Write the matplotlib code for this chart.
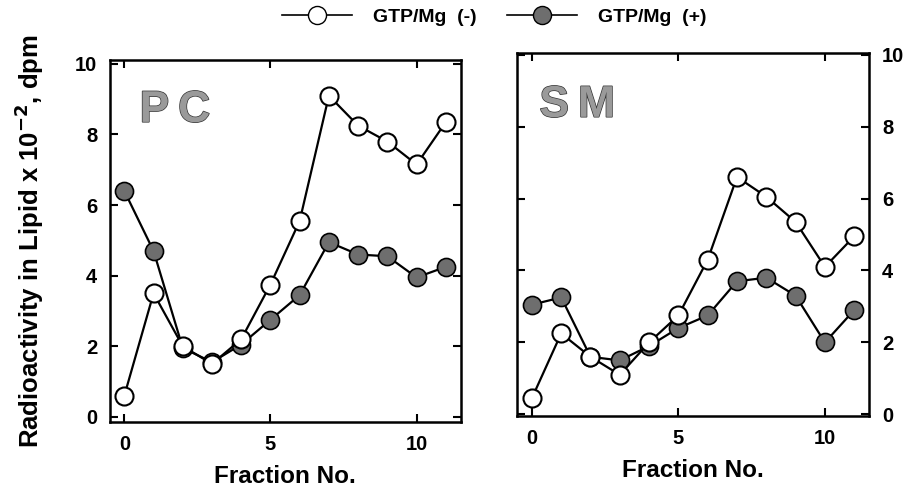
import matplotlib.pyplot as plt
import matplotlib.patheffects as pe
from matplotlib.lines import Line2D

plt.rcParams['font.family'] = ['Liberation Sans', 'DejaVu Sans']
plt.rcParams['font.weight'] = 'bold'
plt.rcParams['mathtext.default'] = 'bf'

fractions = list(range(12))
pc_minus = [0.6, 3.5, 2.0, 1.5, 2.2, 3.75, 5.55, 9.1, 8.25, 7.8, 7.15, 8.35]
pc_plus = [6.4, 4.7, 1.95, 1.55, 2.05, 2.75, 3.45, 4.95, 4.6, 4.55, 3.95, 4.25]
sm_minus = [0.45, 2.25, 1.6, 1.1, 2.0, 2.75, 4.3, 6.6, 6.05, 5.35, 4.1, 4.95]
sm_plus = [3.05, 3.25, 1.6, 1.5, 1.9, 2.4, 2.75, 3.7, 3.8, 3.3, 2.0, 2.9]
yticks = [0, 2, 4, 6, 8, 10]
xticks = [0, 5, 10]

grey = '#6e6e6e'
fig = plt.figure(figsize=(9.22, 4.99), dpi=100)
ax1 = fig.add_axes([0.119, 0.154, 0.381, 0.725])
ax2 = fig.add_axes([0.561, 0.166, 0.382, 0.728])

def draw(ax, minus, plus, label, ylim, pos):
    ax.plot(fractions, plus, '-o', color='black', lw=1.6, ms=13,
            mfc=grey, mec='black', mew=1.2, zorder=2)
    ax.plot(fractions, minus, '-o', color='black', lw=1.6, ms=13,
            mfc='white', mec='black', mew=1.5, zorder=3)
    ax.set_xlim(-0.5, 11.52)
    ax.set_ylim(*ylim)
    ax.set_xticks(xticks)
    ax.set_yticks(yticks)
    ax.tick_params(direction='in', length=6, width=1.5, labelsize=14.5,
                   top=True, right=True, pad=9)
    for s in ax.spines.values():
        s.set_linewidth(1.8)
    ax.set_xlabel('Fraction No.', fontsize=17.5, fontweight='bold', labelpad=8)
    ax.text(pos[0], pos[1], label, transform=ax.transAxes, fontsize=32,
            fontweight='bold', color='#9a9a9a',
            path_effects=[pe.withStroke(linewidth=1.0, foreground='#333333')])

draw(ax1, pc_minus, pc_plus, 'P\u2009C', (-0.15, 10.1), (0.085, 0.83))
draw(ax2, sm_minus, sm_plus, 'S\u2009M', (-0.05, 10.05), (0.063, 0.824))
ax1.set_ylabel('Radioactivity in Lipid x 10$^{-2}$, dpm', fontsize=18.5,
               fontweight='bold', labelpad=21)
ax2.tick_params(labelleft=False, labelright=True)

handles = [
    Line2D([], [], color='black', lw=1.2, marker='o', ms=13, mfc='white', mec='black'),
    Line2D([], [], color='black', lw=1.2, marker='o', ms=13, mfc=grey, mec='black'),
]
fig.legend(handles, ['GTP/Mg  (-)', 'GTP/Mg  (+)'], loc='center',
           bbox_to_anchor=(0.536, 0.966), ncol=2, frameon=False, fontsize=14,
           handlelength=3.6, handletextpad=1.1, columnspacing=1.55)

fig.savefig('out.png', dpi=100)
